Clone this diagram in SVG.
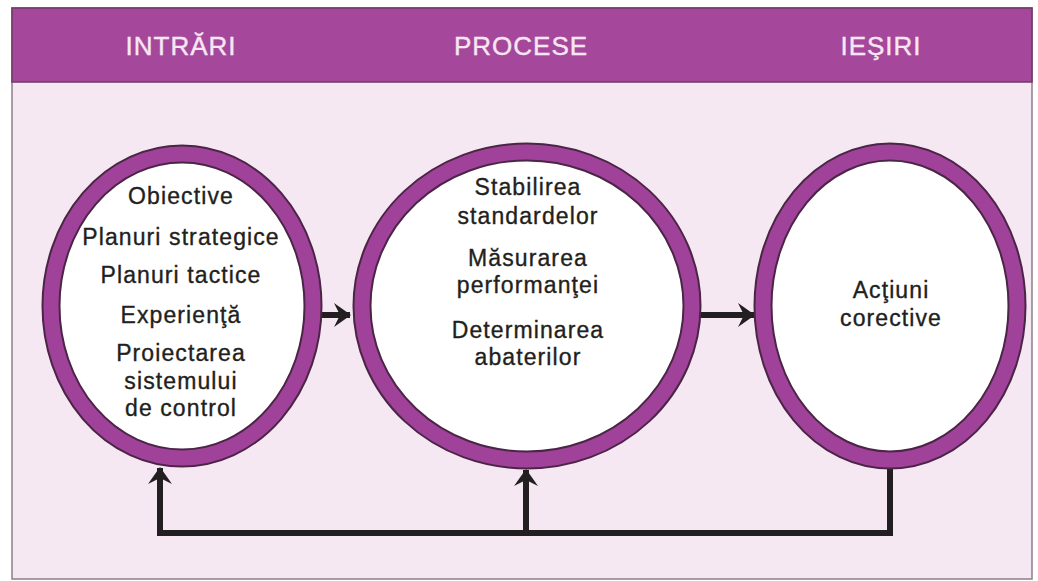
<svg xmlns="http://www.w3.org/2000/svg" width="1038" height="581" viewBox="0 0 1038 581">
  <defs>
    <style>
      .head { font-family: "Liberation Sans", Arial, sans-serif; font-size: 26px; letter-spacing: 1px; fill: #f8e6f3; stroke: #f8e6f3; stroke-width: 0.4; text-anchor: middle; }
      .lbl { font-family: "Liberation Sans", Arial, sans-serif; font-size: 23px; letter-spacing: 1.1px; fill: #231f20; stroke: #231f20; stroke-width: 0.35; text-anchor: middle; }
      .ring-edge { fill: #ffffff; stroke: #4b2546; stroke-width: 19; }
      .ring { fill: none; stroke: #a0419a; stroke-width: 15; }
      .wire { fill: none; stroke: #231f20; stroke-width: 6; stroke-linejoin: miter; }
    </style>
    <marker id="head" viewBox="-18 -13 20 26" markerWidth="20" markerHeight="26" refX="0" refY="0" orient="auto" markerUnits="userSpaceOnUse">
      <path d="M1,0 L-16,-12 L-10,0 L-16,12 Z" fill="#231f20"/>
    </marker>
  </defs>

  <!-- page and panel -->
  <rect x="0" y="0" width="1038" height="581" fill="#ffffff"/>
  <rect x="12" y="8" width="1020" height="571" fill="#f6e8f2" stroke="#8a8088" stroke-width="1.5"/>
  <rect x="12" y="8" width="1020" height="74" fill="#a5489b" stroke="#6e3a68" stroke-width="1.5"/>

  <g id="headers">
    <text class="head" x="181" y="55">INTRĂRI</text>
    <text class="head" x="521" y="55">PROCESE</text>
    <text class="head" x="881" y="55">IEŞIRI</text>
  </g>

  <!-- flow connectors -->
  <g id="connectors">
    <line class="wire" x1="318" y1="315" x2="350" y2="315" marker-end="url(#head)"/>
    <line class="wire" x1="700" y1="315" x2="754" y2="315" marker-end="url(#head)"/>
    <path class="wire" d="M890,468 L890,533 L160,533 L160,468" marker-end="url(#head)"/>
    <line class="wire" x1="526" y1="533" x2="526" y2="470" marker-end="url(#head)"/>
  </g>

  <g id="node-intrari">
    <ellipse class="ring-edge" cx="182" cy="306" rx="131" ry="152"/>
    <ellipse class="ring" cx="182" cy="306" rx="131" ry="152"/>
    <text class="lbl" x="181" y="204">Obiective</text>
    <text class="lbl" x="181" y="245">Planuri strategice</text>
    <text class="lbl" x="181" y="283">Planuri tactice</text>
    <text class="lbl" x="181" y="323">Experienţă</text>
    <text class="lbl" x="181" y="361">Proiectarea</text>
    <text class="lbl" x="181" y="389">sistemului</text>
    <text class="lbl" x="181" y="416">de control</text>
  </g>

  <g id="node-procese">
    <ellipse class="ring-edge" cx="527" cy="306" rx="165" ry="154"/>
    <ellipse class="ring" cx="527" cy="306" rx="165" ry="154"/>
    <text class="lbl" x="528" y="195">Stabilirea</text>
    <text class="lbl" x="528" y="224">standardelor</text>
    <text class="lbl" x="528" y="266">Măsurarea</text>
    <text class="lbl" x="528" y="293">performanţei</text>
    <text class="lbl" x="528" y="338">Determinarea</text>
    <text class="lbl" x="528" y="365">abaterilor</text>
  </g>

  <g id="node-iesiri">
    <ellipse class="ring-edge" cx="890" cy="306" rx="127" ry="154"/>
    <ellipse class="ring" cx="890" cy="306" rx="127" ry="154"/>
    <text class="lbl" x="891" y="298">Acţiuni</text>
    <text class="lbl" x="891" y="326">corective</text>
  </g>
</svg>
